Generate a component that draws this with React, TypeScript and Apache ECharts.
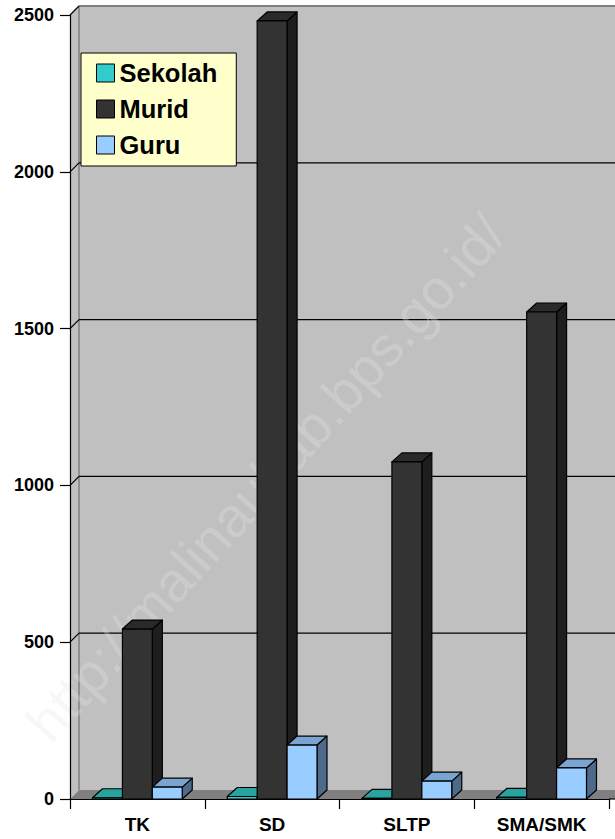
import React, { useEffect, useRef } from 'react';
import * as echarts from 'echarts';

const CATEGORIES = ['TK', 'SD', 'SLTP', 'SMA/SMK'];
const SERIES_NAMES = ['Sekolah', 'Murid', 'Guru'];
const SEKOLAH = [4, 8, 2, 5];
const MURID = [542, 2481, 1075, 1553];
const GURU = [38, 172, 57, 99];
const Y_TICKS = [0, 500, 1000, 1500, 2000, 2500];
const WATERMARK = 'http://malinaukab.bps.go.id/';

const FONT = '"Liberation Sans", Arial, Helvetica, sans-serif';

const COLORS = [
  { front: '#33CCCC', top: '#29A3A0', side: '#1A6B6B' },
  { front: '#333333', top: '#2A2A2A', side: '#1E1E1E' },
  { front: '#99CCFF', top: '#7AA4D2', side: '#4D6A8A' },
];

const BAR_DX = 10;
const BAR_DY = -9;
const WALL_DX = 9;
const WALL_DY = -9;
const BAR_RATIO = 0.222;

function makeBarRender(idx: number) {
  return (params: any, api: any) => {
    const cat = api.value(0);
    const val = api.value(1);
    const top = api.coord([cat, val]);
    const base = api.coord([cat, 0]);
    const band = api.size([1, 0])[0];
    const w = band * BAR_RATIO;
    const x = top[0] - 1.5 * w + idx * w;
    const yT = top[1];
    const yB = base[1];
    const c = COLORS[idx];
    const st = { stroke: '#000', lineWidth: 1.2, lineJoin: 'round' };
    return {
      type: 'group',
      children: [
        {
          type: 'polygon',
          shape: { points: [[x + w, yB], [x + w + BAR_DX, yB + BAR_DY], [x + w + BAR_DX, yT + BAR_DY], [x + w, yT]] },
          style: { fill: c.side, ...st },
        },
        {
          type: 'polygon',
          shape: { points: [[x, yT], [x + BAR_DX, yT + BAR_DY], [x + w + BAR_DX, yT + BAR_DY], [x + w, yT]] },
          style: { fill: c.top, ...st },
        },
        {
          type: 'rect',
          shape: { x, y: yT, width: w, height: yB - yT },
          style: { fill: c.front, ...st },
        },
      ],
    };
  };
}

function frameRender(params: any, api: any) {
  const W = api.getWidth();
  const cs = params.coordSys;
  const x0 = cs.x;
  const y0 = api.coord([0, 0])[1];
  const yTop = api.coord([0, Y_TICKS[Y_TICKS.length - 1]])[1];
  const children: any[] = [];
  children.push({
    type: 'rect',
    shape: { x: x0 + WALL_DX, y: yTop + WALL_DY, width: W - x0 - WALL_DX, height: y0 - yTop },
    style: { fill: '#C0C0C0' },
  });
  children.push({
    type: 'polygon',
    shape: { points: [[x0, y0], [x0, yTop], [x0 + WALL_DX, yTop + WALL_DY], [x0 + WALL_DX, y0 + WALL_DY]] },
    style: { fill: '#C0C0C0' },
  });
  children.push({
    type: 'polygon',
    shape: { points: [[x0, y0], [x0 + WALL_DX, y0 + WALL_DY], [W, y0 + WALL_DY], [W, y0]] },
    style: { fill: '#808080' },
  });
  children.push({
    type: 'line',
    shape: { x1: x0 + WALL_DX, y1: yTop + WALL_DY, x2: W, y2: yTop + WALL_DY },
    style: { stroke: '#808080', lineWidth: 2 },
  });
  children.push({
    type: 'line',
    shape: { x1: x0 + WALL_DX, y1: yTop + WALL_DY, x2: x0 + WALL_DX, y2: y0 + WALL_DY },
    style: { stroke: '#808080', lineWidth: 1.5 },
  });
  Y_TICKS.forEach((v, i) => {
    if (v === 0) return;
    const y = api.coord([0, v])[1];
    children.push({
      type: 'line',
      shape: { x1: x0, y1: y, x2: x0 + WALL_DX, y2: y + WALL_DY },
      style: { stroke: '#000', lineWidth: 1.2 },
    });
    if (i < Y_TICKS.length - 1) {
      children.push({
        type: 'line',
        shape: { x1: x0 + WALL_DX, y1: y + WALL_DY, x2: W, y2: y + WALL_DY },
        style: { stroke: '#000', lineWidth: 1.2 },
      });
    }
  });
  children.push({
    type: 'line',
    shape: { x1: x0 + cs.width, y1: y0, x2: W, y2: y0 },
    style: { stroke: '#000', lineWidth: 1.2 },
  });
  return { type: 'group', children };
}

export default function App() {
  const ref = useRef<HTMLDivElement>(null);
  useEffect(() => {
    if (!ref.current) return;
    const chart = echarts.init(ref.current, undefined, { renderer: 'svg' });
    const values = [SEKOLAH, MURID, GURU];
    const option: any = {
      animation: false,
      backgroundColor: '#FFFFFF',
      grid: { left: 70, right: 6, top: 15, bottom: 40, containLabel: false },
      xAxis: {
        type: 'category',
        data: CATEGORIES,
        z: 10,
        axisLine: { show: true, lineStyle: { color: '#000', width: 1.2 } },
        axisTick: { show: true, alignWithLabel: false, length: 10, lineStyle: { color: '#000', width: 1.2 } },
        axisLabel: { margin: 16, color: '#000', fontFamily: FONT, fontWeight: 'bold', fontSize: 19 },
        splitLine: { show: false },
      },
      yAxis: {
        type: 'value',
        min: 0,
        max: 2500,
        interval: 500,
        z: 10,
        axisLine: { show: true, lineStyle: { color: '#000', width: 1.2 } },
        axisTick: { show: true, length: 10, lineStyle: { color: '#000', width: 1.2 } },
        axisLabel: {
          margin: 16,
          color: '#000',
          fontFamily: FONT,
          fontWeight: 'bold',
          fontSize: 18,
          formatter: (v: number) => String(v),
        },
        splitLine: { show: false },
      },
      legend: {
        orient: 'vertical',
        left: 81,
        top: 53,
        z: 20,
        backgroundColor: '#FFFFCC',
        borderColor: '#000',
        borderWidth: 1,
        padding: [7, 19, 8, 15],
        itemWidth: 18,
        itemHeight: 18,
        itemGap: 10,
        icon: 'rect',
        selectedMode: false,
        itemStyle: { borderColor: '#000', borderWidth: 1 },
        textStyle: { fontFamily: FONT, fontWeight: 'bold', fontSize: 25.5, lineHeight: 25, color: '#000' },
        data: SERIES_NAMES,
      },
      graphic: [
        {
          type: 'text',
          x: 266,
          y: 478,
          rotation: (48 * Math.PI) / 180,
          z: 1,
          silent: true,
          style: {
            text: WATERMARK,
            font: `56px ${FONT}`,
            fill: 'rgba(228,228,228,0.3)',
            align: 'center',
            verticalAlign: 'middle',
          },
        },
      ],
      series: [
        {
          type: 'custom',
          name: 'frame',
          z: 0,
          silent: true,
          clip: false,
          renderItem: frameRender,
          data: [[0, 0]],
          encode: { x: 0, y: 1 },
        },
        ...SERIES_NAMES.map((name, idx) => ({
          type: 'custom',
          name,
          z: 2,
          clip: false,
          itemStyle: { color: COLORS[idx].front },
          renderItem: makeBarRender(idx),
          data: CATEGORIES.map((c, i) => [i, values[idx][i]]),
          encode: { x: 0, y: 1 },
        })),
      ],
    };
    chart.setOption(option);
    return () => chart.dispose();
  }, []);
  return (
    <div
      ref={ref}
      style={{ position: 'fixed', left: 0, top: 0, width: 615, height: 839, background: '#fff' }}
    />
  );
}
